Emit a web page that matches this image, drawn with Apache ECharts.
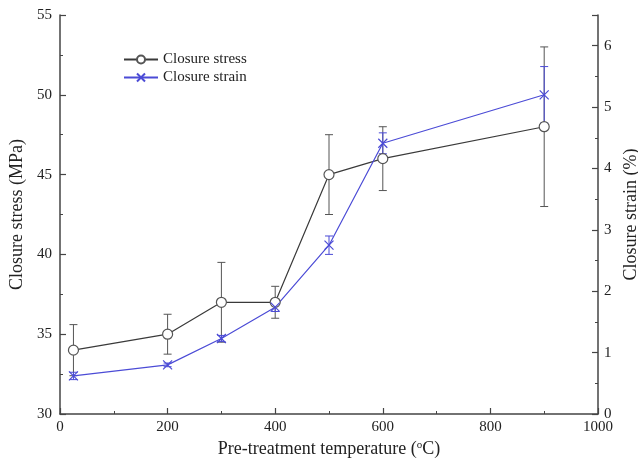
<!DOCTYPE html>
<html><head><meta charset="utf-8">
<script src="https://cdn.jsdelivr.net/npm/echarts@6/dist/echarts.min.js"></script>
<style>html,body{margin:0;padding:0;background:#fff}#c{width:638px;height:464px}</style>
</head><body><div id="c"></div>
<script>
const temps = [25, 200, 300, 400, 500, 600, 900];
const stress = [34, 35, 37, 37, 45, 46, 48];
const stressErr = [1.6, 1.25, 2.5, 1, 2.5, 2, 5];
const strain = [0.62, 0.8, 1.23, 1.74, 2.75, 4.41, 5.2];
const strainErr = [0.06, 0.03, 0.05, 0.07, 0.15, 0.17, 0.46];

const FONT = '"Liberation Serif", "Times New Roman", serif';
const AXC = '#444';
const STRESS_C = '#3a3a3a';
const STRAIN_C = '#4b4bd6';

function errSeries(name, vals, errs, yIdx, color) {
  return {
    type: 'custom', name: name + ' err', yAxisIndex: yIdx, z: 1, silent: true,
    data: temps.map((t, i) => [t, vals[i] - errs[i], vals[i] + errs[i]]),
    renderItem: function (params, api) {
      const lo = api.coord([api.value(0), api.value(1)]);
      const hi = api.coord([api.value(0), api.value(2)]);
      const w = 4;
      const st = { stroke: color, lineWidth: 1 };
      return { type: 'group', children: [
        { type: 'line', shape: { x1: lo[0], y1: lo[1], x2: hi[0], y2: hi[1] }, style: st },
        { type: 'line', shape: { x1: lo[0] - w, y1: lo[1], x2: lo[0] + w, y2: lo[1] }, style: st },
        { type: 'line', shape: { x1: hi[0] - w, y1: hi[1], x2: hi[0] + w, y2: hi[1] }, style: st }
      ]};
    }
  };
}

const axisCommon = {
  axisLine: { show: true, lineStyle: { color: AXC, width: 1.5 } },
  axisTick: { show: true, inside: true, length: 6, lineStyle: { color: AXC, width: 1.2 } },
  minorTick: { show: true, splitNumber: 2, length: 3, lineStyle: { color: AXC, width: 1 } },
  splitLine: { show: false },
  axisLabel: { color: '#222', fontFamily: FONT, fontSize: 15 },
  nameTextStyle: { color: '#222', fontFamily: FONT, fontSize: 17 }
};

const chart = echarts.init(document.getElementById('c'));
chart.setOption({
  animation: false,
  grid: { left: 60, right: 40, top: 15, bottom: 50, containLabel: false, outerBoundsMode: 'none' },
  legend: {
    orient: 'vertical', left: 118, top: 47, itemGap: 3, itemWidth: 34, itemHeight: 10,
    textStyle: { fontFamily: FONT, fontSize: 15, color: '#222' },
    data: ['Closure stress', 'Closure strain']
  },
  xAxis: Object.assign({}, axisCommon, {
    type: 'value', min: 0, max: 1000, interval: 200,
    name: 'Pre-treatment temperature ({sup|o}C)', nameLocation: 'middle', nameGap: 26,
    nameTextStyle: {
      color: '#222', fontFamily: FONT, fontSize: 18,
      rich: { sup: { fontFamily: FONT, fontSize: 11, color: '#222', verticalAlign: 'top', padding: [0, 0, 8, 0] } }
    },
    axisLabel: { color: '#222', fontFamily: FONT, fontSize: 15, margin: 6, formatter: v => String(v) }
  }),
  yAxis: [
    Object.assign({}, axisCommon, {
      type: 'value', min: 30, max: 55, interval: 5, position: 'left',
      name: 'Closure stress (MPa)', nameLocation: 'middle', nameGap: 31, nameRotate: 90,
      nameTextStyle: { color: '#222', fontFamily: FONT, fontSize: 18 },
      axisLabel: { color: '#222', fontFamily: FONT, fontSize: 15, margin: 8 }
    }),
    Object.assign({}, axisCommon, {
      type: 'value', min: 0, max: 6.5, interval: 1, position: 'right',
      name: 'Closure strain (%)', nameLocation: 'middle', nameGap: 24, nameRotate: 90,
      nameTextStyle: { color: '#222', fontFamily: FONT, fontSize: 18 },
      axisLabel: { color: '#222', fontFamily: FONT, fontSize: 15, margin: 6, showMaxLabel: false }
    })
  ],
  series: [
    errSeries('Closure stress', stress, stressErr, 0, '#555'),
    errSeries('Closure strain', strain, strainErr, 1, STRAIN_C),
    {
      name: 'Closure stress', type: 'line', yAxisIndex: 0, z: 3,
      data: temps.map((t, i) => [t, stress[i]]),
      symbol: 'circle', symbolSize: 10,
      lineStyle: { color: STRESS_C, width: 1.2 },
      itemStyle: { color: '#fff', borderColor: '#555', borderWidth: 1.2 }
    },
    {
      name: 'Closure strain', type: 'line', yAxisIndex: 1, z: 3,
      data: temps.map((t, i) => [t, strain[i]]),
      symbol: 'path://M0,0L10,10M10,0L0,10', symbolSize: 9,
      lineStyle: { color: STRAIN_C, width: 1.2 },
      itemStyle: { color: 'none', borderColor: STRAIN_C, borderWidth: 1.2 }
    }
  ]
});
</script></body></html>
